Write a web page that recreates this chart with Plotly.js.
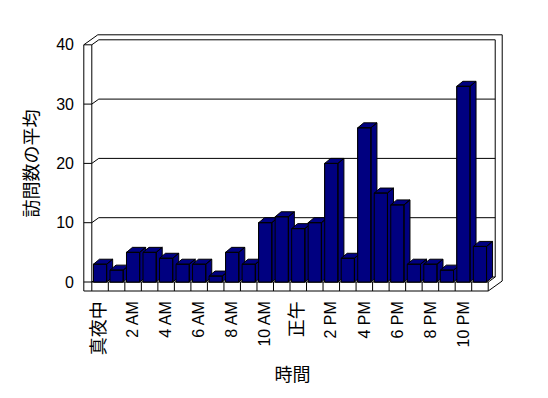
<!DOCTYPE html>
<html>
<head>
<meta charset="utf-8">
<script src="https://cdn.plot.ly/plotly-3.0.1.min.js"></script>
<style>
  html, body { margin: 0; padding: 0; background: #ffffff; }
  #chart { width: 548px; height: 398px; }
</style>
</head>
<body>
<div id="chart"></div>
<script>
// ---- data ----
const hourIndex = [0, 1, 2, 3, 4, 5, 6, 7, 8, 9, 10, 11, 12, 13, 14, 15, 16, 17, 18, 19, 20, 21, 22, 23];
const hourNames = ['真夜中', '1 AM', '2 AM', '3 AM', '4 AM', '5 AM', '6 AM', '7 AM', '8 AM', '9 AM', '10 AM', '11 AM',
                   '正午', '1 PM', '2 PM', '3 PM', '4 PM', '5 PM', '6 PM', '7 PM', '8 PM', '9 PM', '10 PM', '11 PM'];
const visits = [3, 2, 5, 5, 4, 3, 3, 1, 5, 3, 10, 11, 9, 10, 20, 4, 26, 15, 13, 3, 3, 2, 33, 6];
const tickPositions = [0, 2, 4, 6, 8, 10, 12, 14, 16, 18, 20, 22];
const tickLabels = ['真夜中', '2 AM', '4 AM', '6 AM', '8 AM', '10 AM', '正午', '2 PM', '4 PM', '6 PM', '8 PM', '10 PM'];
const yTicks = [0, 10, 20, 30, 40];

// ---- layout geometry ----
const W = 548, H = 398;
const M = { l: 77, r: 40, t: 33, b: 104 };
const xRange = [-1.396, 24.698];
const yRange = [-2.024, 41.99];
const plotW = W - M.l - M.r, plotH = H - M.t - M.b;
const pxX = plotW / (xRange[1] - xRange[0]);   // px per category
const pxY = plotH / (yRange[1] - yRange[0]);   // px per unit
const dx = (px) => px / pxX;
const dy = (px) => px / pxY;

const NAVY = '#000080';
const half = 0.4;                  // half bar width (categories)
const bdx = dx(6), bdy = dy(5);    // bar depth
const wdx = dx(7), wdy = dy(5);    // wall depth
const WT = dx(8);                  // left wall thickness
const FT = dy(9);                  // floor thickness
const L = -0.5, R = hourIndex.length - 0.5;
const TOP = yTicks[yTicks.length - 1];

const traces = [];
// base bar trace (front faces)
traces.push({
  type: 'bar', x: hourIndex, y: visits, width: 2 * half,
  marker: { color: NAVY, line: { color: '#000000', width: 1 } },
  hoverinfo: 'skip', showlegend: false
});
// 3D faces, drawn left to right so each bar hides the side of the previous
hourIndex.forEach((i, k) => {
  const v = visits[k];
  const a = i - half, b = i + half;
  const xs = [b, b, b + bdx, b + bdx, b, null,
              a, a + bdx, b + bdx, b, a, null,
              a, a, b, b, a];
  const ys = [0, v, v + bdy, bdy, 0, null,
              v, v + bdy, v + bdy, v, v, null,
              0, v, v, 0, 0];
  traces.push({
    type: 'scatter', mode: 'lines', x: xs, y: ys, fill: 'toself',
    fillcolor: NAVY, line: { color: '#000000', width: 1 },
    hoverinfo: 'skip', showlegend: false, connectgaps: false
  });
});

// ---- frame shapes ----
const shapes = [];
const line = { color: '#000000', width: 1 };
function pathOf(pts) {
  return pts.map((p, j) => (j === 0 ? 'M' : 'L') + p[0] + ',' + p[1]).join(' ');
}
// outer silhouette
shapes.push({ type: 'path', xref: 'x', yref: 'y', layer: 'below', line,
  path: pathOf([[L - WT, TOP], [L - WT + 2 * wdx, TOP + 2 * wdy], [R + 2 * wdx, TOP + 2 * wdy],
                [R + 2 * wdx, -FT + 2 * wdy], [R, -FT], [L - WT, -FT]]) + ' Z' });
// gridlines across left wall and back wall
yTicks.forEach(v => {
  shapes.push({ type: 'path', xref: 'x', yref: 'y', layer: 'below', line,
    path: pathOf([[L - WT, v], [L, v], [L + wdx, v + wdy], [R + wdx, v + wdy]]) });
});
// inner left edge, inner right edge
shapes.push({ type: 'path', xref: 'x', yref: 'y', layer: 'below', line,
  path: pathOf([[L, -FT + 0.01], [L, TOP]]) });
shapes.push({ type: 'path', xref: 'x', yref: 'y', layer: 'below', line,
  path: pathOf([[R, 0], [R + wdx, wdy], [R + wdx, TOP + wdy]]) });
// floor front face: top edge and dividers
shapes.push({ type: 'path', xref: 'x', yref: 'y', layer: 'below', line,
  path: pathOf([[L, 0], [R, 0]]) });
hourIndex.forEach(i => {
  const xb = i + 0.5;
  shapes.push({ type: 'path', xref: 'x', yref: 'y', layer: 'below', line,
    path: pathOf([[xb, -FT], [xb, 0]]) });
});

const tickFont = { family: 'Liberation Sans, Arial, Noto Sans CJK JP, sans-serif', size: 16, color: '#000000' };
const titleFont = { family: 'Noto Sans CJK JP, sans-serif', size: 18, color: '#000000' };
// CJK tick labels are drawn a little larger, as in the reference
const tickText = tickLabels.map(t => /[^\x00-\x7F]/.test(t)
  ? '<span style="font-size:18px;font-family:\'Noto Sans CJK JP\'">' + t + '</span>' : t);

const layout = {
  width: W, height: H,
  margin: M,
  paper_bgcolor: '#ffffff', plot_bgcolor: 'rgba(0,0,0,0)',
  showlegend: false, hovermode: false,
  xaxis: {
    range: xRange, showgrid: false, zeroline: false, showline: false, ticks: '',
    tickmode: 'array', tickvals: tickPositions, ticktext: tickText, tickangle: -90,
    tickfont: tickFont, fixedrange: true, ticklabelstandoff: 3,
    title: { text: '時間', font: titleFont, standoff: 14 }
  },
  yaxis: {
    range: yRange, showgrid: false, zeroline: false, showline: false, ticks: '',
    tickmode: 'array', tickvals: yTicks, ticktext: yTicks.map(String),
    tickfont: tickFont, fixedrange: true, ticklabelstandoff: 2,
    title: { text: '訪問数の平均', font: titleFont, standoff: 12 }
  },
  shapes: shapes
};

Plotly.newPlot('chart', traces, layout, { staticPlot: true, displayModeBar: false });
</script>
</body>
</html>
